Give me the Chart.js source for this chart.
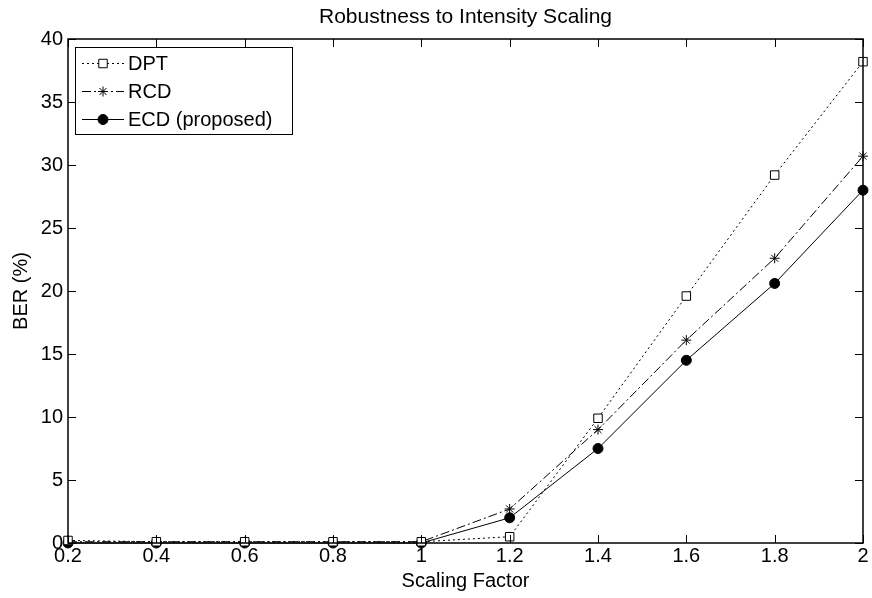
<!DOCTYPE html>
<html>
<head>
<meta charset="utf-8">
<title>Robustness to Intensity Scaling</title>
<script src="https://cdn.jsdelivr.net/npm/chart.js@4.4.1/dist/chart.umd.min.js"></script>
<style>
  html, body { margin: 0; padding: 0; background: #fff; }
  #wrap { width: 872px; height: 598px; }
</style>
</head>
<body>
<div id="wrap"><canvas id="berChart" width="872" height="598"></canvas></div>
<script>
/* ================================
   DATA
================================ */
const scaling = [0.2, 0.4, 0.6, 0.8, 1.0, 1.2, 1.4, 1.6, 1.8, 2.0];
const dpt = [0.2, 0.1, 0.1, 0.1, 0.1, 0.5, 9.9, 19.6, 29.2, 38.2];
const rcd = [0.1, 0.1, 0.1, 0.1, 0.1, 2.7, 9.0, 16.1, 22.6, 30.7];
const ecd = [0.0, 0.0, 0.0, 0.0, 0.0, 2.0, 7.5, 14.5, 20.6, 28.0];

const xTicks = [0.2, 0.4, 0.6, 0.8, 1, 1.2, 1.4, 1.6, 1.8, 2];
const xTickLabels = ['0.2', '0.4', '0.6', '0.8', '1', '1.2', '1.4', '1.6', '1.8', '2'];
const yTicks = [0, 5, 10, 15, 20, 25, 30, 35, 40];

const titleText = 'Robustness to Intensity Scaling';
const xTitle = 'Scaling Factor';
const yTitle = 'BER (%)';

const FONT = '"Liberation Sans", Arial, Helvetica, sans-serif';

const pts = (ys) => scaling.map((x, i) => ({ x: x, y: ys[i] }));

const series = [
  { label: 'DPT', data: dpt, dash: [2, 3], style: 'rect', radius: 6, fill: '#fff' },
  { label: 'RCD', data: rcd, dash: [9, 3, 2, 3], style: 'star', radius: 5, fill: '#000' },
  { label: 'ECD (proposed)', data: ecd, dash: [], style: 'circle', radius: 5, fill: '#000' }
];

/* ================================
   FRAME, TICKS, TEXT, LEGEND
================================ */
const matlabFrame = {
  id: 'matlabFrame',
  afterDatasetsDraw(chart) {
    const { ctx, chartArea: a, scales } = chart;
    const tl = 8;
    ctx.save();
    ctx.strokeStyle = '#000';
    ctx.lineWidth = 1;
    ctx.setLineDash([]);

    // inward ticks on all four sides
    ctx.beginPath();
    xTicks.forEach(v => {
      const px = Math.round(scales.x.getPixelForValue(v)) + 0.5;
      ctx.moveTo(px, a.bottom); ctx.lineTo(px, a.bottom - tl);
      ctx.moveTo(px, a.top); ctx.lineTo(px, a.top + tl);
    });
    yTicks.forEach(v => {
      const py = Math.round(scales.y.getPixelForValue(v)) + 0.5;
      ctx.moveTo(a.left, py); ctx.lineTo(a.left + tl, py);
      ctx.moveTo(a.right, py); ctx.lineTo(a.right - tl, py);
    });
    ctx.stroke();

    // box
    ctx.lineWidth = 1.5;
    ctx.strokeRect(a.left, a.top, a.right - a.left, a.bottom - a.top);

    // titles
    ctx.fillStyle = '#000';
    ctx.textAlign = 'center';
    ctx.textBaseline = 'middle';
    ctx.font = '21px ' + FONT;
    ctx.fillText(titleText, (a.left + a.right) / 2, 17);
    ctx.font = '20px ' + FONT;
    ctx.fillText(xTitle, (a.left + a.right) / 2, 581);
    ctx.save();
    ctx.translate(21, (a.top + a.bottom) / 2);
    ctx.rotate(-Math.PI / 2);
    ctx.fillText(yTitle, 0, 0);
    ctx.restore();

    // legend
    const lx = 75, ly = 47, lw = 217, lh = 87;
    ctx.fillStyle = '#fff';
    ctx.fillRect(lx, ly, lw, lh);
    ctx.lineWidth = 1;
    ctx.strokeStyle = '#000';
    ctx.strokeRect(lx + 0.5, ly + 0.5, lw, lh);
    const rows = [63, 91, 119];
    series.forEach((s, i) => {
      const y = rows[i] + 0.5;
      ctx.beginPath();
      ctx.setLineDash(s.dash);
      ctx.moveTo(82, y); ctx.lineTo(124, y);
      ctx.stroke();
      ctx.setLineDash([]);
      ctx.fillStyle = s.fill;
      Chart.helpers.drawPoint(ctx, { pointStyle: s.style, radius: s.radius, borderWidth: 1 }, 103, y);
      ctx.fillStyle = '#000';
      ctx.textAlign = 'left';
      ctx.font = '20px ' + FONT;
      ctx.fillText(s.label, 128, rows[i] + 1);
    });
    ctx.restore();
  }
};

/* ================================
   CHART
================================ */
const ctx = document.getElementById('berChart');

new Chart(ctx, {
  type: 'line',
  data: {
    datasets: series.map(s => ({
      label: s.label,
      data: pts(s.data),
      borderColor: '#000',
      borderWidth: 1,
      borderDash: s.dash,
      pointStyle: s.style,
      pointRadius: s.radius,
      pointBorderColor: '#000',
      pointBackgroundColor: s.fill,
      pointBorderWidth: 1,
      tension: 0,
      fill: false,
      clip: false
    }))
  },
  options: {
    responsive: false,
    animation: false,
    events: [],
    layout: { padding: { top: 39, right: 9, bottom: 0, left: 0 } },
    plugins: {
      legend: { display: false },
      title: { display: false },
      tooltip: { enabled: false }
    },
    scales: {
      x: {
        type: 'linear',
        min: 0.2,
        max: 2,
        grid: { display: false, drawTicks: false, tickLength: 0 },
        border: { display: false },
        afterBuildTicks: (scale) => { scale.ticks = xTicks.map(v => ({ value: v })); },
        afterFit: (scale) => { scale.height = 55; },
        ticks: {
          color: '#000',
          padding: 1,
          maxRotation: 0,
          autoSkip: false,
          font: { family: FONT, size: 20 },
          callback: (v) => {
            const i = xTicks.findIndex(t => Math.abs(t - v) < 1e-6);
            return i >= 0 ? xTickLabels[i] : '';
          }
        }
      },
      y: {
        min: 0,
        max: 40,
        grid: { display: false, drawTicks: false, tickLength: 0 },
        border: { display: false },
        afterBuildTicks: (scale) => { scale.ticks = yTicks.map(v => ({ value: v })); },
        afterFit: (scale) => { scale.width = 68; },
        ticks: {
          color: '#000',
          padding: 5,
          autoSkip: false,
          font: { family: FONT, size: 20 }
        }
      }
    }
  },
  plugins: [matlabFrame]
});
</script>
</body>
</html>
